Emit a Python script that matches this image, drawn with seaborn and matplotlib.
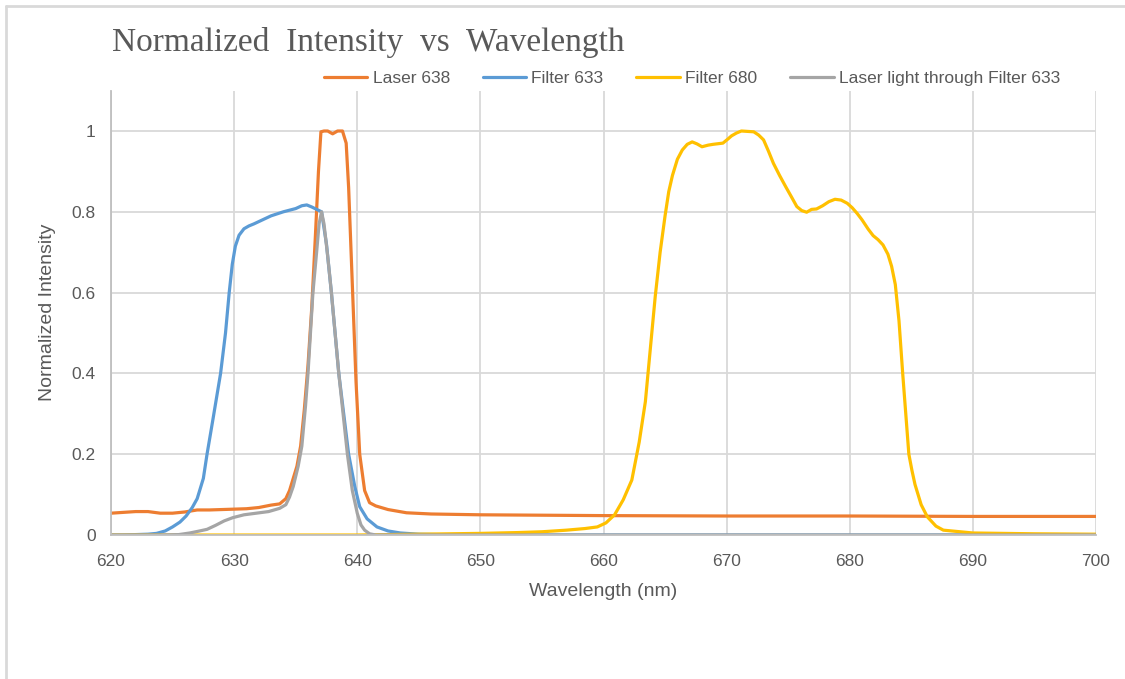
import matplotlib
matplotlib.use('Agg')
import matplotlib.pyplot as plt
from matplotlib.lines import Line2D
import seaborn as sns

# Laser 638
laser_nm = [620, 621, 622, 623, 624, 625, 626, 627, 628, 629, 630, 631, 632, 633, 633.7,
            634.2, 634.5, 634.8, 635.1, 635.4, 635.7, 636, 636.3, 636.6, 636.85, 637.05,
            637.3, 637.6, 638, 638.4, 638.8, 639.1, 639.3, 639.6, 639.9, 640.2, 640.6, 641,
            641.5, 642.5, 644, 646, 650, 655, 660, 670, 680, 690, 700]
laser_int = [0.054, 0.056, 0.058, 0.058, 0.054, 0.054, 0.057, 0.062, 0.062, 0.063, 0.064,
             0.065, 0.068, 0.074, 0.077, 0.09, 0.11, 0.14, 0.17, 0.22, 0.31, 0.42, 0.56,
             0.74, 0.9, 0.998, 1.0, 1.0, 0.993, 1.0, 1.0, 0.97, 0.86, 0.62, 0.38, 0.2,
             0.11, 0.08, 0.072, 0.063, 0.055, 0.052, 0.05, 0.049, 0.048, 0.047, 0.047,
             0.046, 0.046]

# Filter 633
f633_nm = [620, 621, 622, 623, 623.7, 624.4, 625, 625.6, 626.1, 626.6, 627, 627.5, 627.8,
           628.3, 628.9, 629.3, 629.6, 629.85, 630.1, 630.4, 630.8, 631.2, 631.6, 632.3,
           633, 634, 635, 635.5, 635.9, 636.3, 636.7, 637.1, 637.5, 637.9, 638.5, 638.9,
           639.3, 639.8, 640.2, 640.8, 641.6, 642.5, 643.5, 645, 648, 660, 700]
f633_int = [0, 0, 0.001, 0.002, 0.004, 0.01, 0.02, 0.032, 0.047, 0.068, 0.09, 0.14, 0.2,
            0.29, 0.4, 0.5, 0.6, 0.67, 0.715, 0.742, 0.758, 0.765, 0.77, 0.78, 0.79, 0.8,
            0.808, 0.815, 0.817, 0.812, 0.806, 0.8, 0.72, 0.6, 0.4, 0.3, 0.2, 0.12, 0.07,
            0.04, 0.02, 0.01, 0.005, 0.002, 0, 0, 0]

# Filter 680
f680_nm = [620, 640, 645, 650, 653, 655, 657, 658.5, 659.5, 660.2, 660.9, 661.6, 662.3,
           662.9, 663.4, 663.8, 664.2, 664.6, 665, 665.3, 665.6, 666, 666.4, 666.8, 667.2,
           667.6, 668, 668.5, 668.9, 669.7, 670.1, 670.4, 670.8, 671.2, 672.2, 672.6, 673,
           673.4, 673.8, 674.3, 674.8, 675.3, 675.7, 676.1, 676.5, 676.9, 677.3, 677.8,
           678.3, 678.8, 679.3, 679.8, 680.2, 680.6, 681, 681.5, 681.9, 682.3, 682.7,
           683.1, 683.4, 683.7, 684, 684.3, 684.6, 684.8, 685.05, 685.3, 685.8, 686.3,
           687, 687.6, 690, 695, 700]
f680_int = [0, 0, 0.002, 0.004, 0.006, 0.008, 0.012, 0.016, 0.02, 0.03, 0.05, 0.087, 0.136,
            0.23, 0.33, 0.46, 0.59, 0.7, 0.79, 0.85, 0.89, 0.93, 0.953, 0.967, 0.973,
            0.968, 0.961, 0.965, 0.967, 0.97, 0.98, 0.988, 0.995, 1.0, 0.998, 0.99, 0.978,
            0.95, 0.92, 0.89, 0.862, 0.835, 0.813, 0.803, 0.799, 0.806, 0.807, 0.815,
            0.825, 0.831, 0.829, 0.821, 0.81, 0.796, 0.78, 0.757, 0.741, 0.731, 0.718,
            0.695, 0.665, 0.62, 0.53, 0.4, 0.28, 0.2, 0.16, 0.125, 0.075, 0.045, 0.022,
            0.012, 0.005, 0.003, 0.002]

# Laser light through Filter 633
thru_nm = [620, 624, 625.5, 626.4, 627.2, 627.8, 628.5, 629.2, 629.9, 630.8, 631.8, 632.8,
           633.7, 634.2, 634.5, 634.8, 635.2, 635.5, 635.8, 636, 636.2, 636.4, 636.7,
           636.9, 637.1, 637.3, 637.6, 637.9, 638.2, 638.5, 638.85, 639.2, 639.6, 640,
           640.3, 640.6, 641, 641.5, 700]
thru_int = [0, 0, 0.001, 0.005, 0.01, 0.014, 0.024, 0.035, 0.043, 0.05, 0.054, 0.058,
            0.066, 0.075, 0.094, 0.12, 0.17, 0.22, 0.32, 0.4, 0.5, 0.6, 0.7, 0.77, 0.8,
            0.77, 0.69, 0.6, 0.5, 0.4, 0.3, 0.2, 0.11, 0.054, 0.025, 0.012, 0.003, 0, 0]

series = [
    ('Laser 638', laser_nm, laser_int, '#ED7D31'),
    ('Filter 633', f633_nm, f633_int, '#5B9BD5'),
    ('Filter 680', f680_nm, f680_int, '#FFC000'),
    ('Laser light through Filter 633', thru_nm, thru_int, '#A5A5A5'),
]

sns.set_style('white')
plt.rcParams['font.family'] = ['Liberation Sans', 'DejaVu Sans']
text_grey = '#595959'

fig = plt.figure(figsize=(11.25, 6.79), dpi=100)
ax = fig.add_axes([111 / 1125, 1 - 535 / 679, 985 / 1125, 444.4 / 679])

for name, x, y, c in series:
    sns.lineplot(x=x, y=y, ax=ax, color=c, linewidth=2.3, label=name, sort=False)

ax.set_xlim(620, 700)
ax.set_ylim(0, 1.1)
ax.set_xticks(range(620, 701, 10))
ax.set_yticks([0, 0.2, 0.4, 0.6, 0.8, 1.0])
ax.set_yticklabels(['0', '0.2', '0.4', '0.6', '0.8', '1'])
ax.grid(True, color='#D9D9D9', linewidth=1.3)
ax.set_axisbelow(True)
for s in ['top', 'right']:
    ax.spines[s].set_visible(False)
for s in ['left', 'bottom']:
    ax.spines[s].set_color('#BFBFBF')
    ax.spines[s].set_linewidth(1.3)
ax.tick_params(axis='both', length=0, labelsize=12.5, labelcolor=text_grey)
ax.tick_params(axis='y', pad=11)
ax.tick_params(axis='x', pad=14)

ax.set_xlabel('Wavelength (nm)', fontsize=14, color=text_grey)
ax.xaxis.set_label_coords(0.5, -0.128)
ax.xaxis.label.set_va('center')
ax.set_ylabel('Normalized Intensity', fontsize=14, color=text_grey)
ax.yaxis.set_label_coords(-0.064, 0.5)
ax.yaxis.label.set_va('center')

ax.legend(ncol=4, loc='center', bbox_to_anchor=(692 / 1125, 1 - 78 / 679),
          bbox_transform=fig.transFigure, frameon=False, fontsize=12.5,
          handlelength=2.5, handletextpad=0.3, columnspacing=1.9,
          labelcolor=text_grey)

fig.text(112 / 1125, 1 - 42 / 679, 'Normalized  Intensity  vs  Wavelength',
         family='Liberation Serif', fontsize=24, color=text_grey, va='center', ha='left')

# chart area border
fig.add_artist(Line2D([6 / 1125, 1], [1 - 6 / 679, 1 - 6 / 679], transform=fig.transFigure,
                      color='#D9D9D9', linewidth=2))
fig.add_artist(Line2D([6 / 1125, 6 / 1125], [0, 1 - 6 / 679], transform=fig.transFigure,
                      color='#D9D9D9', linewidth=2))

fig.savefig('out.png', dpi=100)
